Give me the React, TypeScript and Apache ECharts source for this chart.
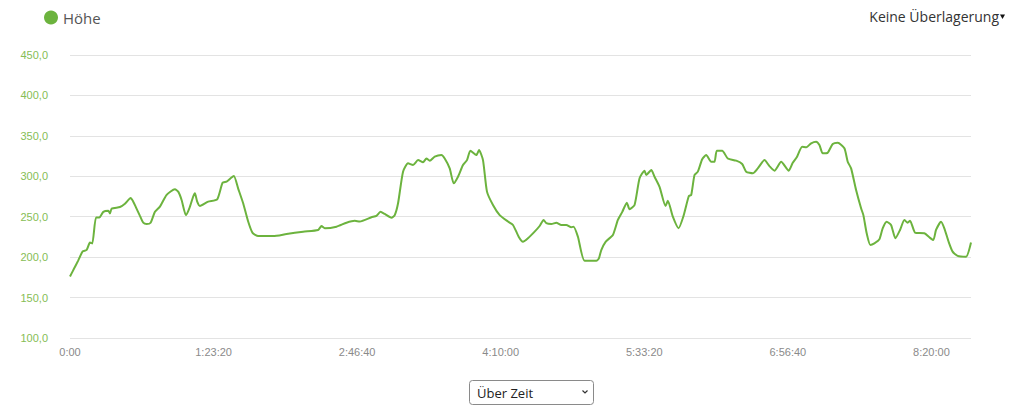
import React, { useEffect, useRef } from "react";
import * as echarts from "echarts";

// elapsed time in seconds
const times: number[] = [
  0, 115, 289, 442, 581, 696, 776, 905, 1020, 1159, 1333, 1392, 1451, 1740, 1914, 2112, 2203, 2297,
  2436, 2551, 2669, 2808, 2958, 3132, 3365, 3654, 3769, 3887, 4037, 4152, 4291, 4350, 4430, 4524,
  4813, 5126, 5314, 5453, 5592, 5707, 5857, 6031, 6205, 6358, 6553, 7075, 7541, 8119, 8641, 8759,
  8874, 9281, 9629, 9918, 10092, 10499, 10673, 10812, 10962, 11195, 11310, 11425, 11599, 11773,
  11947, 12121, 12295, 12413, 12528, 12702, 12935, 13050, 13224, 13363, 13513, 13687, 13826, 13944,
  14153, 14244, 14383, 14522, 14731, 14964, 15253, 15427, 15636, 15775, 15949, 16182, 16356, 16495,
  16589, 16763, 16937, 17111, 17285, 17459, 17539, 17689, 17922, 18329, 18420, 18503, 18653, 18907,
  19081, 19234, 19394, 19488, 19662, 19836, 20010, 20069, 20243, 20358, 20532, 20741, 20821, 20995,
  21193, 21367, 21552, 21635, 21750, 21865, 22018, 22157, 22331, 22446, 22526, 22714, 22909, 23201,
  23410, 23549, 23779, 23953, 24186, 24360, 24534, 24767, 25032, 25171, 25310, 25498, 25648, 25811,
  25985, 26100, 26215, 26389, 26563, 26737, 26970, 27085, 27203, 27377, 27551, 27631, 27746, 27875,
  28014, 28188, 28303, 28442, 28595, 28745, 28908, 29058, 29173, 29256, 29441, 29754, 29928, 30067,
  30161, 30335, 30450, 30600, 30739, 30913, 31205, 31379,
];

// elevation in metres
const heights: number[] = [
  176, 184, 196, 207, 209, 218, 217, 249, 249, 256, 257.5, 254, 260, 262, 266, 273, 268.6, 261.6,
  251, 242.6, 241, 242.6, 256, 262.4, 277, 284, 281, 270.7, 252, 260, 275, 279, 268.6, 263.3,
  268.6, 271.5, 292, 293.4, 297.5, 300.4, 284.8, 266.6, 244, 230, 226.2, 226, 228.6, 231.5, 233.6, 238.5,
  235.7, 237.7, 242.6, 245, 244, 249.3, 251, 256, 253.4, 248.7, 252, 266.6, 305.7, 316,
  314, 320, 317.3, 322, 319.3, 324.3, 326.3, 322, 309.8, 291.3, 299.5, 314, 320, 331.6,
  326.3, 332.5, 320, 281, 264.5, 252, 244, 239.8, 224.6, 219, 223.3, 231.5, 238.5, 246,
  242, 241, 242.6, 239.8, 239.8, 237, 237.7, 225.3, 195.6, 195.6, 198.5, 208.8, 219, 227.4,
  246, 256, 267.4, 259.2, 264.5, 297.5, 307, 301.6, 307.8, 299.5, 287, 263.3, 269.8, 250,
  235.7, 251, 275.6, 277, 301.6, 305.7, 321, 326.3, 318, 318, 331.6, 331.6, 322, 319.3,
  315.2, 305.7, 303.7, 309.8, 320, 312.6, 306.9, 318, 306.9, 316.8, 323.4, 336.6, 336, 340.8,
  342.8, 338.7, 328.4, 329.2, 339.9, 341.5, 334.6, 318, 309.8, 283, 260.4, 252, 229.5, 215,
  217, 222, 235.7, 243.9, 239.8, 223.3, 233.6, 246, 242.6, 245, 230, 229.5, 224.6, 221.2,
  233.6, 243.9, 235.7, 219, 206.8, 201.5, 200.5, 218,
];

const seriesName = "Höhe";
const overlayLabel = "Keine Überlagerung";
const selectLabel = "Über Zeit";

const fmtTime = (s: number): string => {
  if (s === 0) return "0:00";
  const h = Math.floor(s / 3600);
  const m = Math.floor((s % 3600) / 60);
  const sec = Math.round(s % 60);
  return `${h}:${String(m).padStart(2, "0")}:${String(sec).padStart(2, "0")}`;
};

export default function App() {
  const ref = useRef<HTMLDivElement>(null);
  useEffect(() => {
    document.body.style.margin = "0";
    const chart = echarts.init(ref.current!, undefined, { renderer: "svg" });
    const green = "#6cb33e";
    chart.setOption({
      animation: false,
      backgroundColor: "#ffffff",
      legend: {
        left: 39,
        top: 5,
        icon: "circle",
        itemWidth: 14,
        itemHeight: 14,
        textStyle: { fontFamily: "Open Sans", fontSize: 15, color: "#555555" },
        data: [seriesName],
      },
      grid: { left: 70, right: 53, top: 55, bottom: 72, containLabel: false },
      xAxis: {
        type: "value",
        min: 0,
        max: "dataMax",
        interval: 5000,
        axisLine: { show: false },
        axisTick: { show: false },
        splitLine: { show: false },
        axisLabel: {
          formatter: (v: number) => fmtTime(v),
          color: "#8a8a8a",
          fontSize: 11,
          fontFamily: "Liberation Sans, Arial, sans-serif",
          margin: 8,
          showMaxLabel: false,
        },
      },
      yAxis: {
        type: "value",
        min: 100,
        max: 450,
        interval: 50,
        axisLine: { show: false },
        axisTick: { show: false },
        splitLine: { lineStyle: { color: "#e3e3e3", width: 1 } },
        axisLabel: {
          formatter: (v: number) => v.toFixed(1).replace(".", ","),
          color: "#86bd55",
          fontSize: 11,
          fontFamily: "Liberation Sans, Arial, sans-serif",
          margin: 22,
        },
      },
      series: [
        {
          name: seriesName,
          type: "line",
          data: times.map((t, i) => [t, heights[i]]),
          showSymbol: false,
          symbol: "none",
          color: green,
          lineStyle: { color: green, width: 2 },
          smooth: 0.2,
        },
      ],
      graphic: [
        {
          type: "text",
          x: 999,
          y: 16,
          style: {
            text: overlayLabel,
            fontFamily: "Open Sans",
            fontSize: 14,
            fill: "#333333",
            align: "right",
            verticalAlign: "middle",
          },
        },
        {
          type: "polygon",
          shape: { points: [[1000, 14.5], [1005, 14.5], [1002.5, 19]] },
          style: { fill: "#111111" },
        },
        {
          type: "rect",
          shape: { x: 469.5, y: 380.5, width: 124, height: 24, r: 3 },
          style: { fill: "#ffffff", stroke: "#8a8a8a", lineWidth: 1 },
        },
        {
          type: "text",
          x: 477,
          y: 392.5,
          style: {
            text: selectLabel,
            fontFamily: "Open Sans",
            fontSize: 13,
            fill: "#222222",
            verticalAlign: "middle",
          },
        },
        {
          type: "polyline",
          shape: { points: [[582.5, 390.5], [585, 393], [587.5, 390.5]] },
          style: { stroke: "#333333", lineWidth: 1.2, fill: "none" },
        },
      ],
    });
    return () => chart.dispose();
  }, []);
  return (
    <div style={{ position: "absolute", left: 0, top: 0 }}>
      <div ref={ref} style={{ width: 1024, height: 410 }} />
    </div>
  );
}
